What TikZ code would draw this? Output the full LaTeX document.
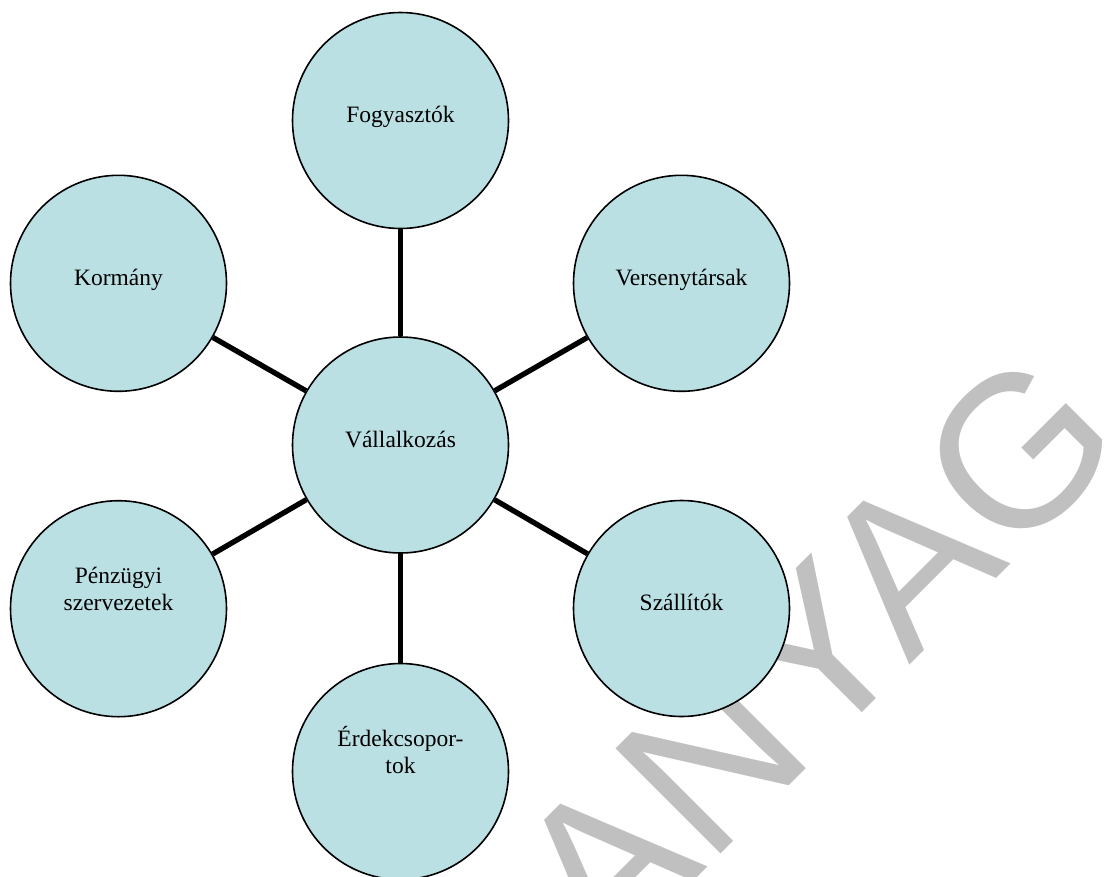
\documentclass[tikz,border=0pt]{standalone}
\usepackage{fontspec}
\setmainfont{Liberation Serif}
\newfontfamily\wmfont{Liberation Sans}
\definecolor{bubblefill}{HTML}{BBE0E3}
\definecolor{wmgray}{RGB}{192,192,192}
\begin{document}
\begin{tikzpicture}[x=1pt,y=-1pt,
  bubble/.style={circle, draw=black, line width=1.6pt, fill=bubblefill,
    minimum size=216pt, inner sep=0pt, text height=12pt, text depth=8pt,
    font=\fontsize{23.5}{27}\selectfont},
  link/.style={line width=5.3pt, draw=black},
  watermark/.style={rotate=45, anchor=base west, inner sep=0pt, text=wmgray,
    font=\wmfont\fontsize{216}{216}\selectfont}]
\useasboundingbox (0,0) rectangle (1105,876);
\clip (0,0) rectangle (1105,876);
\node[watermark] (wm) at (606.5,968.5) {ANYAG};
\node[bubble] (vall) at (400.5,445) {Vállalkozás};
\node[bubble] (fog) at (400.5,120.5) {Fogyasztók};
\node[bubble] (korm) at (118.5,283.3) {Kormány};
\node[bubble] (verseny) at (681.5,283.3) {Versenytársak};
\node[bubble] (penz) at (118.5,608.7) {\begin{tabular}[b]{@{}c@{}}Pénzügyi\\szervezetek\end{tabular}};
\node[bubble] (szall) at (681.5,608.5) {Szállítók};
\node[bubble] (erdek) at (400.5,771.5) {\begin{tabular}[b]{@{}c@{}}Érdekcsopor-\\tok\end{tabular}};
\draw[link] (vall) -- (fog);
\draw[link] (vall) -- (korm);
\draw[link] (vall) -- (verseny);
\draw[link] (vall) -- (penz);
\draw[link] (vall) -- (szall);
\draw[link] (vall) -- (erdek);
\end{tikzpicture}
\end{document}
